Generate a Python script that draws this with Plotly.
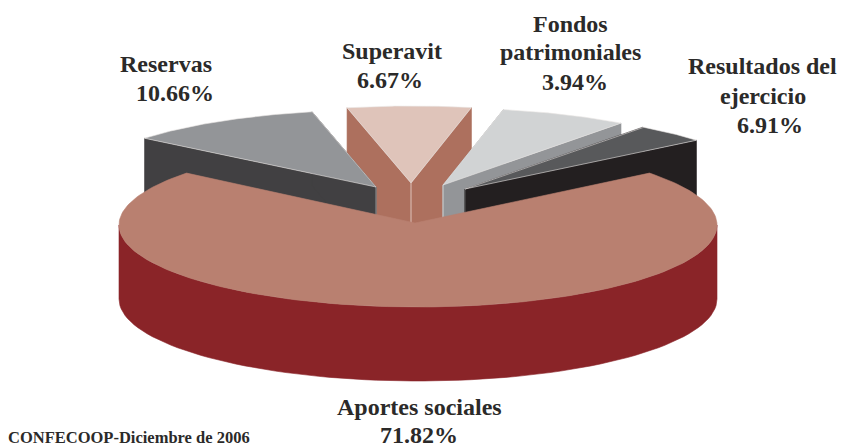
import numpy as np
import plotly.graph_objects as go

# ---- data ----
categories = ["Reservas", "Superavit", "Fondos patrimoniales", "Resultados del ejercicio", "Aportes sociales"]
label_pct = [10.66, 6.67, 3.94, 6.91, 71.82]
# the drawn wedges of the two small right-hand slices are swapped against their labels in the source
wedge_pct = [10.66, 6.67, 6.91, 3.94, 71.82]
top_colors = ["#939598", "#DFC4BA", "#D1D3D4", "#58595B", "#B98070"]
wall_colors = ["#414042", "#AD705E", "#939598", "#231F20", "#8A2428"]
source_note = "CONFECOOP-Diciembre de 2006"

# ---- layout ----
W, H = 841, 448
RX, RY, DEPTH = 299, 82, 74
SLICE_RY = 77
FONT = "Liberation Serif"
TXT = "#2b2a29"
MAIN_CENTER = (418, 225)
MAIN_APEX = (415, 223)
APEX = {0: (376, 187), 1: (411, 183), 2: (443, 185), 3: (465, 189)}
LINES = [
    (166, 64, "Reservas"), (175, 93, None, 0),
    (392, 51, "Superavit"), (390, 80, None, 1),
    (570, 24, "Fondos"), (570, 52, "patrimoniales"), (575, 82, None, 2),
    (762, 66, "Resultados del"), (763, 96, "ejercicio"), (770, 125, None, 3),
    (419, 407, "Aportes sociales"), (419, 435, None, 4),
]

# angles clockwise from the top; the big slice is centred on the bottom
big = wedge_pct[4] * 3.6
start = 180 + big / 2
spans = {}
a = start
for i in range(4):
    spans[i] = (a, a + wedge_pct[i] * 3.6)
    a += wedge_pct[i] * 3.6
spans[4] = (180 - big / 2, 180 + big / 2)


def arc(cx, cy, rx, ry, a0, a1, n=80):
    t = np.radians(np.linspace(a0, a1, n))
    return cx + rx * np.sin(t), cy - ry * np.cos(t)


fig = go.Figure()


def poly(x, y, color, edge=None):
    fig.add_trace(go.Scatter(
        x=list(x) + [x[0]], y=list(y) + [y[0]], mode="lines", fill="toself",
        fillcolor=color, line=dict(color=edge or color, width=0.6),
        hoverinfo="skip", showlegend=False))


def small_slice(i):
    ax, ay = APEX[i]
    a0, a1 = spans[i]
    xs, ys = arc(ax, ay, RX, SLICE_RY, a0, a1)
    # side walls from the apex to each rim corner
    for px, py in ((xs[0], ys[0]), (xs[-1], ys[-1])):
        poly([ax, px, px, ax], [ay, py, py + DEPTH, ay + DEPTH], wall_colors[i])
    # crease at the apex
    fig.add_trace(go.Scatter(x=[ax, ax], y=[ay, ay + DEPTH], mode="lines",
                             line=dict(color=top_colors[i], width=1),
                             hoverinfo="skip", showlegend=False))
    poly([ax] + list(xs), [ay] + list(ys), top_colors[i], "#e9e6e4")


for i in (1, 2, 3, 0):
    small_slice(i)

# large slice: outer wall then top
cx, cy = MAIN_CENTER
fx, fy = arc(cx, cy, RX, RY, 90, 270)
poly(list(fx) + list(fx[::-1]), list(fy) + list((fy + DEPTH)[::-1]), wall_colors[4])
a0, a1 = spans[4]
tx, ty = arc(cx, cy, RX, RY, a0, a1, 200)
poly([MAIN_APEX[0]] + list(tx), [MAIN_APEX[1]] + list(ty), top_colors[4])

for item in LINES:
    x, y = item[0], item[1]
    s = item[2] if item[2] else f"{label_pct[item[3]]:.2f}%"
    fig.add_annotation(x=x, y=y, text=f"<b>{s}</b>", showarrow=False, xanchor="center", yanchor="middle",
                       font=dict(family=FONT, size=24, color=TXT))
fig.add_annotation(x=6, y=437, text=f"<b>{source_note}</b>", showarrow=False, xanchor="left",
                   yanchor="middle", font=dict(family=FONT, size=16.5, color=TXT))

fig.update_layout(
    width=W, height=H, margin=dict(l=0, r=0, t=0, b=0),
    paper_bgcolor="white", plot_bgcolor="white", showlegend=False,
    xaxis=dict(range=[0, W], visible=False, fixedrange=True),
    yaxis=dict(range=[H, 0], visible=False, fixedrange=True),
)
fig.write_html("out.html", config=dict(displayModeBar=False),
               post_script="document.body.style.margin='0';")
